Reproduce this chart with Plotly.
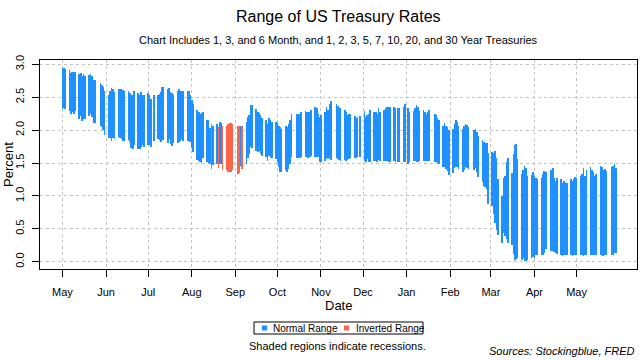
import pandas as pd
import plotly.graph_objects as go

# ---------------- data ----------------
holidays = ['2019-05-27', '2019-07-04', '2019-09-02', '2019-10-14', '2019-11-11',
            '2019-11-28', '2019-12-25', '2020-01-01', '2020-01-20', '2020-02-17',
            '2020-04-10', '2020-05-25']
dates = [d for d in pd.bdate_range('2019-05-01', '2020-05-29')
         if d.strftime('%Y-%m-%d') not in holidays]

inverted_dates = ['2019-08-15', '2019-08-20', '2019-08-23', '2019-08-26', '2019-08-27',
                  '2019-08-28', '2019-08-29', '2019-08-30', '2019-09-03', '2019-09-04',
                  '2019-09-06']

high = [
    # May 2019
    2.94, 2.94, 2.93, 2.91, 2.87, 2.89, 2.88, 2.89, 2.85, 2.87, 2.82, 2.85, 2.82, 2.83, 2.85, 2.82, 2.76, 2.76, 2.72, 2.69, 2.66, 2.59,
    # Jun 2019
    2.54, 2.60, 2.64, 2.63, 2.58, 2.62, 2.62, 2.62, 2.61, 2.59, 2.60, 2.56, 2.54, 2.53, 2.60, 2.56, 2.54, 2.58, 2.54, 2.53,
    # Jul 2019
    2.57, 2.53, 2.48, 2.54, 2.54, 2.55, 2.58, 2.66, 2.66, 2.63, 2.64, 2.58, 2.57, 2.54, 2.60, 2.62, 2.60, 2.60, 2.60, 2.60, 2.60, 2.53,
    # Aug 2019
    2.45, 2.40, 2.31, 2.28, 2.24, 2.26, 2.28, 2.15, 2.15, 2.03, 2.09, 2.07, 2.09, 2.05, 2.12, 2.11, 2.06, 2.07, 2.09, 2.11, 2.11, 2.10,
    # Sep 2019
    2.06, 2.06, 2.06, 2.06, 2.12, 2.20, 2.23, 2.38, 2.38, 2.32, 2.28, 2.26, 2.23, 2.18, 2.15, 2.10, 2.18, 2.15, 2.13, 2.12,
    # Oct 2019
    2.11, 2.07, 2.04, 2.01, 2.06, 2.05, 2.10, 2.16, 2.24, 2.25, 2.25, 2.25, 2.27, 2.29, 2.28, 2.27, 2.28, 2.31, 2.35, 2.34, 2.24, 2.20,
    # Nov 2019
    2.23, 2.28, 2.35, 2.30, 2.40, 2.44, 2.40, 2.37, 2.33, 2.33, 2.31, 2.28, 2.23, 2.25, 2.24, 2.22, 2.19, 2.20, 2.22,
    # Dec 2019
    2.29, 2.20, 2.23, 2.25, 2.31, 2.28, 2.28, 2.25, 2.34, 2.28, 2.31, 2.33, 2.35, 2.35, 2.35, 2.35, 2.34, 2.34, 2.34, 2.35, 2.39,
    # Jan 2020
    2.34, 2.28, 2.29, 2.33, 2.38, 2.35, 2.29, 2.30, 2.28, 2.25, 2.28, 2.30, 2.25, 2.23, 2.18, 2.15, 2.06, 2.11, 2.07, 2.05, 2.00,
    # Feb 2020
    2.01, 2.10, 2.15, 2.12, 2.06, 2.02, 2.06, 2.09, 2.08, 2.04, 2.00, 2.01, 1.97, 1.91, 1.85, 1.82, 1.81, 1.80, 1.65,
    # Mar 2020
    1.67, 1.65, 1.68, 1.58, 1.25, 1.00, 1.27, 1.30, 1.51, 1.58, 1.35, 1.64, 1.77, 1.79, 1.56, 1.34, 1.40, 1.46, 1.42, 1.30, 1.32, 1.36,
    # Apr 2020
    1.30, 1.27, 1.25, 1.27, 1.34, 1.38, 1.36, 1.40, 1.42, 1.27, 1.23, 1.27, 1.25, 1.19, 1.23, 1.20, 1.19, 1.25, 1.22, 1.26, 1.29,
    # May 2020
    1.27, 1.30, 1.34, 1.42, 1.31, 1.40, 1.44, 1.39, 1.36, 1.30, 1.33, 1.46, 1.44, 1.40, 1.41, 1.38, 1.44, 1.46, 1.48, 1.42,
]

low = [
    # May 2019
    2.32, 2.33, 2.32, 2.29, 2.25, 2.28, 2.25, 2.29, 2.17, 2.21, 2.14, 2.17, 2.17, 2.21, 2.24, 2.20, 2.11, 2.11, 2.06, 2.05, 2.00, 1.93,
    # Jun 2019
    1.88, 1.88, 1.83, 1.88, 1.86, 1.90, 1.88, 1.86, 1.84, 1.84, 1.85, 1.82, 1.73, 1.72, 1.77, 1.72, 1.71, 1.74, 1.77, 1.74,
    # Jul 2019
    1.78, 1.77, 1.74, 1.84, 1.86, 1.85, 1.82, 1.85, 1.85, 1.81, 1.86, 1.79, 1.76, 1.80, 1.80, 1.82, 1.84, 1.86, 1.84, 1.84, 1.84, 1.82,
    # Aug 2019
    1.73, 1.66, 1.55, 1.53, 1.52, 1.50, 1.57, 1.52, 1.50, 1.49, 1.41, 1.47, 1.48, 1.42, 1.49, 1.49, 1.40, 1.40, 1.37, 1.36, 1.37, 1.40,
    # Sep 2019
    1.33, 1.35, 1.45, 1.41, 1.49, 1.57, 1.64, 1.74, 1.73, 1.69, 1.67, 1.68, 1.64, 1.60, 1.59, 1.53, 1.61, 1.58, 1.57, 1.56,
    # Oct 2019
    1.51, 1.44, 1.37, 1.37, 1.39, 1.37, 1.41, 1.48, 1.59, 1.57, 1.57, 1.57, 1.59, 1.59, 1.59, 1.58, 1.59, 1.60, 1.59, 1.59, 1.59, 1.52,
    # Nov 2019
    1.51, 1.53, 1.57, 1.56, 1.57, 1.55, 1.57, 1.56, 1.54, 1.53, 1.54, 1.53, 1.55, 1.56, 1.57, 1.58, 1.58, 1.59, 1.59,
    # Dec 2019
    1.53, 1.52, 1.56, 1.52, 1.52, 1.53, 1.53, 1.52, 1.54, 1.53, 1.53, 1.53, 1.53, 1.52, 1.52, 1.53, 1.52, 1.52, 1.52, 1.51, 1.51,
    # Jan 2020
    1.49, 1.52, 1.53, 1.53, 1.52, 1.52, 1.53, 1.53, 1.53, 1.53, 1.53, 1.53, 1.52, 1.51, 1.50, 1.49, 1.44, 1.44, 1.41, 1.38, 1.32,
    # Feb 2020
    1.35, 1.42, 1.44, 1.44, 1.41, 1.36, 1.39, 1.44, 1.42, 1.41, 1.39, 1.42, 1.36, 1.29, 1.21, 1.15, 1.14, 1.11, 0.87,
    # Mar 2020
    0.85, 0.72, 0.59, 0.48, 0.40, 0.28, 0.43, 0.39, 0.34, 0.28, 0.25, 0.12, 0.02, 0.04, 0.05, 0.02, 0.05, 0.01, 0.01, 0.03, 0.05, 0.07,
    # Apr 2020
    0.05, 0.10, 0.10, 0.10, 0.11, 0.14, 0.20, 0.17, 0.16, 0.15, 0.13, 0.12, 0.11, 0.09, 0.10, 0.10, 0.11, 0.10, 0.09, 0.11, 0.10,
    # May 2020
    0.11, 0.11, 0.10, 0.09, 0.11, 0.11, 0.11, 0.10, 0.10, 0.10, 0.10, 0.11, 0.10, 0.09, 0.11, 0.11, 0.11, 0.11, 0.14, 0.14,
]

tick_dates = ['2019-05-01', '2019-06-01', '2019-07-01', '2019-08-01', '2019-09-01', '2019-10-01',
              '2019-11-01', '2019-12-01', '2020-01-01', '2020-02-01', '2020-03-01', '2020-04-01',
              '2020-05-01']
tick_labels = ['May', 'Jun', 'Jul', 'Aug', 'Sep', 'Oct', 'Nov', 'Dec', 'Jan', 'Feb', 'Mar', 'Apr', 'May']
y_ticks = [0.0, 0.5, 1.0, 1.5, 2.0, 2.5, 3.0]

assert len(dates) == len(high) == len(low), (len(dates), len(high), len(low))

# ---------------- figure ----------------
BLUE = '#1E90FF'
RED = '#FF6347'
FONT = 'Liberation Sans, Arial, sans-serif'

df = pd.DataFrame({'date': dates, 'high': high, 'low': low})
df['inv'] = df['date'].dt.strftime('%Y-%m-%d').isin(inverted_dates)

fig = go.Figure()
for flag, col, name in [(False, BLUE, 'Normal Range'), (True, RED, 'Inverted Range')]:
    sub = df[df['inv'] == flag]
    fig.add_trace(go.Bar(
        x=sub['date'], y=sub['high'] - sub['low'], base=sub['low'],
        marker=dict(color=col, line=dict(width=0)),
        width=86400000 * 0.5, name=name, showlegend=False,
    ))

FW, FH = 640, 360
W0, W1 = 40, 637      # plot area px (x)
T0, B0 = 60, 269      # plot area px (y)


def px(x):
    return (x - W0) / (W1 - W0)


def py(y):
    return (B0 - y) / (B0 - T0)


fig.update_layout(
    width=FW, height=FH,
    margin=dict(l=W0, r=FW - W1, t=T0, b=FH - B0, autoexpand=False),
    paper_bgcolor='white', plot_bgcolor='white',
    font=dict(family=FONT, color='black', size=11),
    bargap=0, barmode='overlay',
    showlegend=False,
)

fig.update_xaxes(
    type='date', range=['2019-04-15', '2020-06-13'], automargin=False,
    tickvals=tick_dates, ticktext=tick_labels,
    ticks='outside', ticklen=7, tickcolor='black', tickwidth=1,
    tickfont=dict(size=11, color='black'), ticklabelstandoff=6,
    showgrid=True, gridcolor='#c4c4c4', griddash='dot', gridwidth=1,
    showline=True, linecolor='black', linewidth=1, mirror=True,
    zeroline=False,
)
fig.update_yaxes(
    range=[-0.11, 3.065], tickvals=y_ticks, tickformat='.1f', automargin=False,
    ticks='outside', ticklen=7, tickcolor='black', tickwidth=1,
    tickangle=-90, tickfont=dict(size=11, color='black'), ticklabelstandoff=4,
    showgrid=True, gridcolor='#c4c4c4', griddash='dot', gridwidth=1,
    showline=True, linecolor='black', linewidth=1, mirror=True,
    zeroline=False,
)

ann = [
    dict(text='Range of US Treasury Rates', x=px(338), y=py(17), font=dict(size=16)),
    dict(text='Chart Includes 1, 3, and 6 Month, and 1, 2, 3, 5, 7, 10, 20, and 30 Year Treasuries',
         x=px(338), y=py(40), font=dict(size=11)),
    dict(text='Percent', x=px(8), y=py(165), textangle=-90, font=dict(size=13)),
    dict(text='Date', x=px(338), y=py(305), font=dict(size=13)),
    dict(text='Normal Range', x=px(271), y=py(328), xanchor='left', font=dict(size=10)),
    dict(text='Inverted Range', x=px(354), y=py(328), xanchor='left', font=dict(size=10)),
    dict(text='Shaded regions indicate recessions.', x=px(337), y=py(346), font=dict(size=11)),
    dict(text='<i>Sources: Stockingblue, FRED</i>', x=px(637), y=py(351), xanchor='right',
         font=dict(size=11)),
]
for a in ann:
    a.setdefault('xanchor', 'center')
    fig.add_annotation(xref='paper', yref='paper', showarrow=False, yanchor='middle', **a)

shapes = [
    dict(type='rect', x0=px(254), x1=px(423), y0=py(322), y1=py(334),
         line=dict(color='black', width=1), fillcolor='white'),
    dict(type='rect', x0=px(262), x1=px(267), y0=py(325.5), y1=py(330.5),
         line=dict(width=0), fillcolor=BLUE),
    dict(type='rect', x0=px(344), x1=px(349), y0=py(325.5), y1=py(330.5),
         line=dict(width=0), fillcolor=RED),
]
for s in shapes:
    fig.add_shape(xref='paper', yref='paper', layer='above', **s)

post = (
    "document.body.style.margin='0';"
    "var st=document.createElement('style');"
    "st.textContent='.bars path{shape-rendering:crispEdges !important;}';"
    "document.head.appendChild(st);"
)
fig.write_html('out.html', post_script=post, config={'displayModeBar': False})
